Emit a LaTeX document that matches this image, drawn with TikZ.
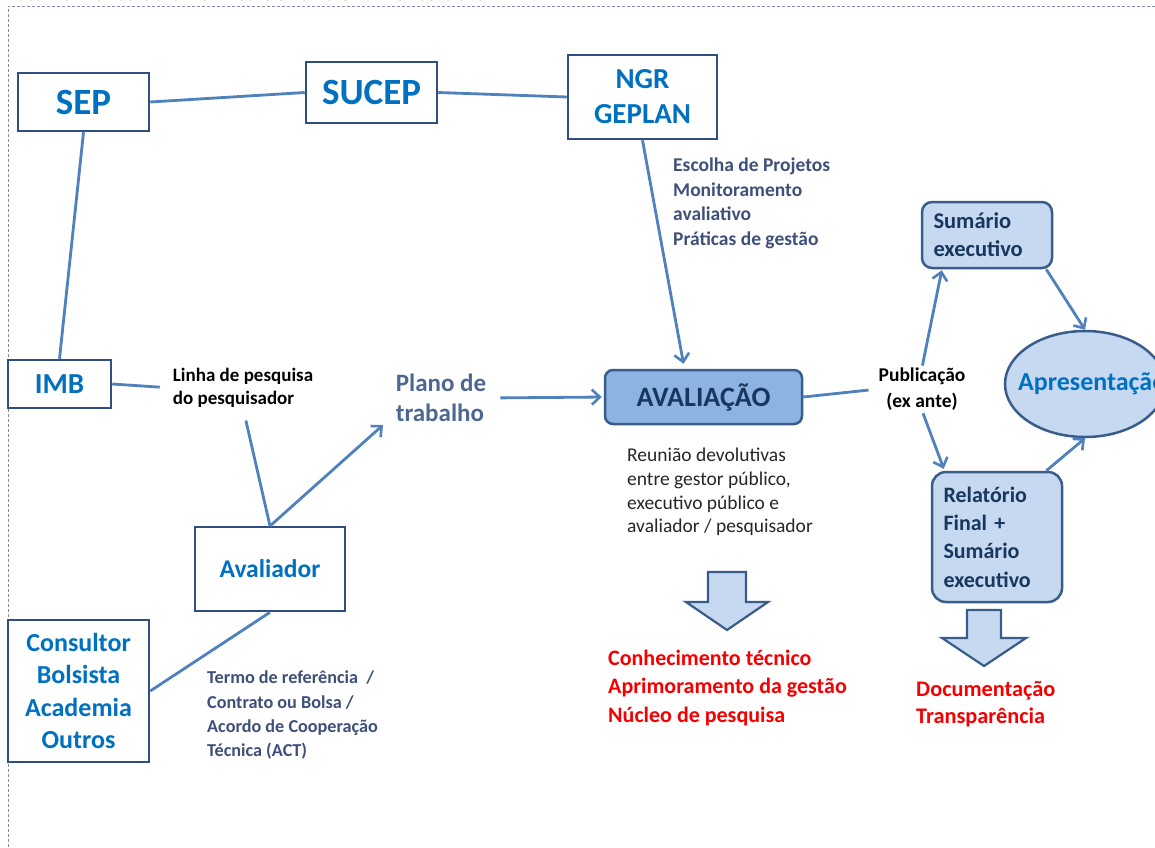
\documentclass[tikz,border=0pt]{standalone}
\usepackage{fontspec}
\setmainfont{Carlito}
\usetikzlibrary{arrows.meta,shapes.geometric,calc}
\definecolor{linecol}{HTML}{4F81BD}
\definecolor{boxline}{HTML}{2F4F80}
\definecolor{rboxline}{HTML}{385D8A}
\definecolor{boxblue}{HTML}{0070C0}
\definecolor{lightfill}{HTML}{C6D9F1}
\definecolor{avalfill}{HTML}{8DB3E2}
\definecolor{navy}{HTML}{17375E}
\definecolor{slate}{HTML}{3E5079}
\definecolor{plano}{HTML}{4D6793}
\definecolor{redtxt}{HTML}{F50000}
\definecolor{frame}{HTML}{7F8CA3}
\begin{document}
\begin{tikzpicture}[x=1pt,y=-1pt,
  box/.style={draw=boxline, line width=2.5pt, fill=white, text=boxblue, inner sep=0pt, align=center},
  rbox/.style={draw=rboxline, line width=2.5pt, fill=lightfill, text=navy, inner sep=0pt, rounded corners=10pt},
  conn/.style={draw=linecol, line width=2.8pt},
  arr/.style={conn, -{Straight Barb[length=8pt,width=15pt,line width=2.6pt]}},
  blk/.style={draw=rboxline, line width=2.2pt, fill=lightfill, line join=miter},
  plain/.style={inner sep=0pt, align=left}]
\useasboundingbox (0,0) rectangle (1155,847);
\fill[white] (0,0) rectangle (1155,847);
% frame and clipped title
\draw[frame, line width=1pt, dash pattern=on 3pt off 2pt] (1155,6) -- (8,6) -- (8,847);
\node[anchor=base west, inner sep=0pt, font=\fontsize{23.5}{27}\selectfont] (title) at (0,0.5) {Detalhamento da dinâmica de funcionamento do CEMP?};

% boxes
\node[box, minimum width=131pt, minimum height=58pt, font=\fontsize{37}{44}\selectfont\bfseries] (sep) at (83.5,102) {SEP};
\node[box, minimum width=131pt, minimum height=61pt, font=\fontsize{37}{44}\selectfont\bfseries] (sucep) at (371.5,92.5) {SUCEP};
\node[box, minimum width=149pt, minimum height=84pt, font=\fontsize{29}{35}\selectfont\bfseries] (ngr) at (642.5,97) {NGR\\GEPLAN};
\node[box, minimum width=103pt, minimum height=48pt, font=\fontsize{29}{35}\selectfont\bfseries] (imb) at (59.5,384) {IMB};
\node[box, minimum width=150pt, minimum height=84pt, font=\fontsize{25.5}{31}\selectfont\bfseries] (aval) at (270,569) {Avaliador};
\node[box, minimum width=141pt, minimum height=142pt, font=\fontsize{26}{32.3}\selectfont\bfseries] (cons) at (78.5,691) {Consultor\\Bolsista\\Academia\\Outros};
\node[rbox, fill=avalfill, rounded corners=8pt, minimum width=197pt, minimum height=54pt, font=\fontsize{28}{34}\selectfont\bfseries] (avaliacao) at (703.5,397) {AVALIAÇÃO};
\node[rbox, minimum width=130pt, minimum height=66pt, text width=107pt, align=left, font=\fontsize{22.5}{28}\selectfont\bfseries] (sum) at (987,235) {Sumário\\executivo};
\node[rbox, rounded corners=14pt, minimum width=130pt, minimum height=130pt, text width=107pt, align=left, font=\fontsize{22}{28.3}\selectfont\bfseries] (rel) at (997,537) {Relatório\\Final +\\Sumário\\executivo};
\node[ellipse, draw=rboxline, line width=2.5pt, fill=lightfill, minimum width=160pt, minimum height=106pt, inner sep=0pt] (apres) at (1085,384) {};
\node[anchor=west, inner sep=0pt, text=boxblue, font=\fontsize{26}{30}\selectfont\bfseries] (apreslbl) at (1018,384) {Apresentação};

% text labels
\node[plain, font=\fontsize{19}{23}\selectfont\bfseries] (linha) at (243,388) {Linha de pesquisa\\do pesquisador};
\node[plain, text=plano, font=\fontsize{25}{30}\selectfont\bfseries] (plano) at (441,398) {Plano de\\trabalho};
\node[plain, anchor=north west, text=slate, font=\fontsize{19.5}{24.5}\selectfont\bfseries] (escolha) at (673,158) {Escolha de Projetos\\Monitoramento\\avaliativo\\Práticas de gestão};
\node[plain, anchor=north west, text=black!85, font=\fontsize{19.5}{23.7}\selectfont] (reuniao) at (627,448) {Reunião devolutivas\\entre gestor público,\\executivo público e\\avaliador / pesquisador};
\node[plain, anchor=north west, text=slate, font=\fontsize{18.2}{24.3}\selectfont\bfseries] (termo) at (207,671) {Termo de referência~~/\\Contrato ou Bolsa /\\Acordo de Cooperação\\Técnica (ACT)};
\node[plain, align=center, font=\fontsize{19.5}{26}\selectfont\bfseries] (pub) at (922,389) {Publicação\\(ex ante)};
\node[plain, anchor=north west, text=redtxt, font=\fontsize{22}{28.3}\selectfont\bfseries] (red1) at (608,650) {Conhecimento técnico\\Aprimoramento da gestão\\Núcleo de pesquisa};
\node[plain, anchor=north west, text=redtxt, font=\fontsize{22.3}{27}\selectfont\bfseries] (red2) at (916,681) {Documentação\\Transparência};

% connector end points
\coordinate (avalN) at (270,526);
\coordinate (planoIn) at (383,425);
\coordinate (avaliacaoTop) at ($(avaliacao.north)+(-20,-5)$);
\coordinate (sumIn) at ($(sum.south west)+(21,1)$);
\coordinate (sumOut) at ($(sum.south east)+(-7,0)$);
\coordinate (relIn) at ($(rel.north west)+(13,-2)$);
\coordinate (relOut) at ($(rel.north east)+(-17,0)$);

% connectors
\draw[conn] (sep.east) -- (sucep.west);
\draw[conn] (sucep.east) -- (ngr.west);
\draw[conn] (sep.south) -- (imb.north);
\draw[conn, shorten >=13pt] (imb.east) -- (linha.west);
\draw[conn, shorten <=13pt] (linha.south) -- (avalN);
\draw[arr] (avalN) -- (planoIn);
\draw[arr, shorten <=14pt, shorten >=2pt] (plano.east) -- (avaliacao.west);
\draw[arr] (ngr.south) -- (avaliacaoTop);
\draw[conn] (cons.east) -- (aval.south);
\draw[conn, shorten >=10pt] (avaliacao.east) -- (pub.west);
\draw[arr, shorten <=2pt] (pub.north) -- (sumIn);
\draw[arr, shorten <=3pt] (pub.south) -- (relIn);
\draw[arr] (sumOut) -- (apres.north);
\draw[arr] (relOut) -- (apres.south);

% block arrows
\draw[blk] (708,572) -- (746,572) -- (746,602) -- (768,602) -- (727,630) -- (686,602) -- (708,602) -- cycle;
\draw[blk] (967,610) -- (1001,610) -- (1001,638) -- (1026,638) -- (984,666) -- (942,638) -- (967,638) -- cycle;
\end{tikzpicture}
\end{document}
